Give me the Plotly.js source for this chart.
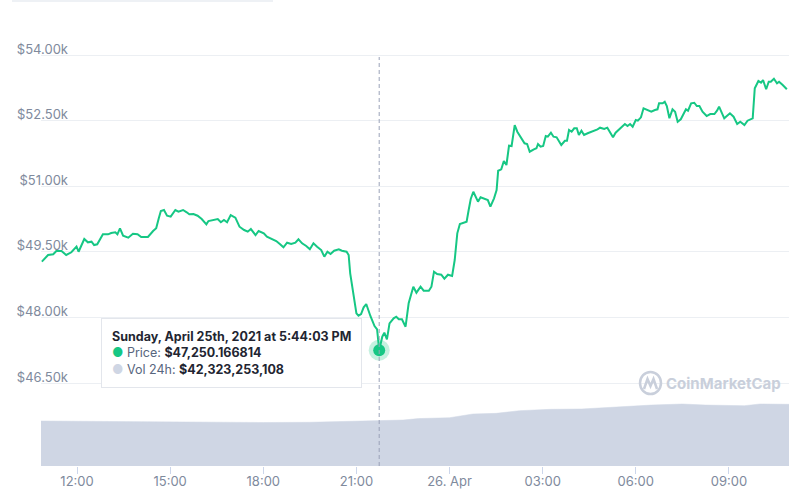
<!DOCTYPE html>
<html>
<head>
<meta charset="utf-8">
<script src="https://cdn.plot.ly/plotly-3.0.1.min.js"></script>
<style>
  html, body { margin: 0; padding: 0; background: #ffffff; }
  #chart { width: 802px; height: 491px; }
</style>
</head>
<body>
<div id="chart"></div>
<script>
// ---- Price series ----
const priceTimes = [
  "2021-04-25 10:52","2021-04-25 11:04","2021-04-25 11:14","2021-04-25 11:20","2021-04-25 11:30","2021-04-25 11:39",
  "2021-04-25 11:49","2021-04-25 11:59","2021-04-25 12:03","2021-04-25 12:14","2021-04-25 12:21","2021-04-25 12:28",
  "2021-04-25 12:33","2021-04-25 12:39","2021-04-25 12:50","2021-04-25 13:00","2021-04-25 13:06","2021-04-25 13:14",
  "2021-04-25 13:18","2021-04-25 13:23","2021-04-25 13:29","2021-04-25 13:39","2021-04-25 13:48","2021-04-25 13:57",
  "2021-04-25 14:04","2021-04-25 14:17","2021-04-25 14:27","2021-04-25 14:33","2021-04-25 14:38","2021-04-25 14:42",
  "2021-04-25 14:48","2021-04-25 14:54","2021-04-25 15:01","2021-04-25 15:10","2021-04-25 15:16","2021-04-25 15:25",
  "2021-04-25 15:32","2021-04-25 15:37","2021-04-25 15:45","2021-04-25 15:53","2021-04-25 16:01","2021-04-25 16:10",
  "2021-04-25 16:14","2021-04-25 16:24","2021-04-25 16:32","2021-04-25 16:38","2021-04-25 16:44","2021-04-25 16:50",
  "2021-04-25 16:57","2021-04-25 17:06","2021-04-25 17:14","2021-04-25 17:23","2021-04-25 17:30","2021-04-25 17:36",
  "2021-04-25 17:45","2021-04-25 17:51","2021-04-25 18:01","2021-04-25 18:07","2021-04-25 18:17","2021-04-25 18:25",
  "2021-04-25 18:32","2021-04-25 18:39","2021-04-25 18:46","2021-04-25 18:54","2021-04-25 19:02","2021-04-25 19:08",
  "2021-04-25 19:15","2021-04-25 19:23","2021-04-25 19:30","2021-04-25 19:37","2021-04-25 19:44","2021-04-25 19:52",
  "2021-04-25 19:58","2021-04-25 20:04","2021-04-25 20:10","2021-04-25 20:17","2021-04-25 20:26","2021-04-25 20:32",
  "2021-04-25 20:41","2021-04-25 20:45","2021-04-25 20:48","2021-04-25 20:54","2021-04-25 21:00","2021-04-25 21:04",
  "2021-04-25 21:09","2021-04-25 21:14","2021-04-25 21:19","2021-04-25 21:27","2021-04-25 21:35","2021-04-25 21:40",
  "2021-04-25 21:44:03","2021-04-25 21:50","2021-04-25 21:54","2021-04-25 21:59","2021-04-25 22:04","2021-04-25 22:12",
  "2021-04-25 22:17","2021-04-25 22:22","2021-04-25 22:28","2021-04-25 22:35","2021-04-25 22:41","2021-04-25 22:50",
  "2021-04-25 22:56","2021-04-25 23:04","2021-04-25 23:10","2021-04-25 23:20","2021-04-25 23:25","2021-04-25 23:30",
  "2021-04-25 23:36","2021-04-25 23:44","2021-04-25 23:50","2021-04-25 23:57",
  "2021-04-26 00:05","2021-04-26 00:10","2021-04-26 00:15","2021-04-26 00:20","2021-04-26 00:27","2021-04-26 00:33",
  "2021-04-26 00:37","2021-04-26 00:41","2021-04-26 00:46","2021-04-26 00:55","2021-04-26 01:00","2021-04-26 01:10",
  "2021-04-26 01:14","2021-04-26 01:19","2021-04-26 01:26","2021-04-26 01:31","2021-04-26 01:34","2021-04-26 01:40",
  "2021-04-26 01:45","2021-04-26 01:50","2021-04-26 01:55","2021-04-26 02:00","2021-04-26 02:06","2021-04-26 02:11",
  "2021-04-26 02:17","2021-04-26 02:25","2021-04-26 02:30","2021-04-26 02:35","2021-04-26 02:43","2021-04-26 02:48",
  "2021-04-26 02:51","2021-04-26 02:56","2021-04-26 03:01","2021-04-26 03:06","2021-04-26 03:10","2021-04-26 03:16",
  "2021-04-26 03:21","2021-04-26 03:27","2021-04-26 03:36","2021-04-26 03:43","2021-04-26 03:47","2021-04-26 03:51",
  "2021-04-26 03:56","2021-04-26 04:01","2021-04-26 04:06","2021-04-26 04:10","2021-04-26 04:15","2021-04-26 04:20",
  "2021-04-26 04:27","2021-04-26 04:36","2021-04-26 04:46","2021-04-26 04:51","2021-04-26 04:59","2021-04-26 05:05",
  "2021-04-26 05:10","2021-04-26 05:16","2021-04-26 05:21","2021-04-26 05:31","2021-04-26 05:39","2021-04-26 05:44",
  "2021-04-26 05:49","2021-04-26 05:54","2021-04-26 06:00","2021-04-26 06:04","2021-04-26 06:10","2021-04-26 06:15",
  "2021-04-26 06:23","2021-04-26 06:30","2021-04-26 06:37","2021-04-26 06:42","2021-04-26 06:45","2021-04-26 06:52",
  "2021-04-26 06:56","2021-04-26 07:00","2021-04-26 07:05","2021-04-26 07:11","2021-04-26 07:16","2021-04-26 07:21",
  "2021-04-26 07:27","2021-04-26 07:37","2021-04-26 07:41","2021-04-26 07:47","2021-04-26 07:53","2021-04-26 07:58",
  "2021-04-26 08:03","2021-04-26 08:09","2021-04-26 08:17","2021-04-26 08:24","2021-04-26 08:32","2021-04-26 08:37",
  "2021-04-26 08:41","2021-04-26 08:46","2021-04-26 08:51","2021-04-26 08:56","2021-04-26 09:02","2021-04-26 09:09",
  "2021-04-26 09:16","2021-04-26 09:22","2021-04-26 09:30","2021-04-26 09:36","2021-04-26 09:46","2021-04-26 09:50",
  "2021-04-26 09:57","2021-04-26 10:02","2021-04-26 10:06","2021-04-26 10:12","2021-04-26 10:17","2021-04-26 10:21",
  "2021-04-26 10:27","2021-04-26 10:33","2021-04-26 10:37","2021-04-26 10:44","2021-04-26 10:52"
];
const priceValues = [
  49274,49427,49443,49518,49518,49427,
  49489,49617,49502,49793,49717,49731,
  49655,49671,49900,49900,49930,49946,
  49900,50037,49868,49822,49914,49900,
  49838,49838,49976,50037,50266,50433,
  50456,50325,50303,50456,50417,50456,
  50403,50357,50364,50325,50250,50129,
  50204,50227,50250,50175,50227,50175,
  50341,50280,50074,49998,49960,50021,
  49884,49976,49923,49845,49793,49747,
  49678,49603,49708,49678,49708,49786,
  49694,49633,49557,49694,49617,49541,
  49388,49502,49450,49525,49557,49525,
  49502,49427,49008,48512,48094,48039,
  48078,48231,48306,48032,47803,47728,
  47250.166814,47559,47650,47499,47865,47979,
  48016,47957,47957,47787,48322,48702,
  48565,48702,48610,48610,48702,49045,
  48992,48976,48885,48976,
  48947,49312,49923,50136,50165,50188,
  50456,50707,50874,50646,50746,50700,
  50684,50531,50723,50913,51354,51386,
  51576,51485,51926,51919,52399,52246,
  52118,51981,51965,51789,51844,51867,
  51965,51903,51919,52148,52132,52223,
  52132,52118,51942,52040,52040,52285,
  52246,52324,52324,52171,52269,52171,
  52210,52246,52301,52338,52308,52338,
  52246,52118,52223,52324,52422,52377,
  52422,52360,52514,52498,52575,52781,
  52742,52704,52742,52758,52896,52896,
  52932,52834,52553,52758,52704,52475,
  52530,52758,52726,52896,52909,52834,
  52834,52704,52605,52651,52651,52726,
  52818,52667,52553,52605,52667,52589,
  52422,52475,52399,52498,52553,53239,
  53405,53367,53428,53216,53389,53389,
  53458,53353,53389,53314,53216
];

// ---- 24h volume series ----
const volTimes = [
  "2021-04-25 10:50","2021-04-25 12:00","2021-04-25 13:30","2021-04-25 15:00","2021-04-25 16:30","2021-04-25 18:00",
  "2021-04-25 19:30","2021-04-25 21:00","2021-04-25 21:44","2021-04-25 22:30","2021-04-25 23:00","2021-04-26 00:00",
  "2021-04-26 00:45","2021-04-26 01:30","2021-04-26 02:15","2021-04-26 03:15","2021-04-26 04:15","2021-04-26 05:00",
  "2021-04-26 06:00","2021-04-26 06:30","2021-04-26 07:30","2021-04-26 08:15","2021-04-26 09:30","2021-04-26 10:00",
  "2021-04-26 10:57"
];
const volValues = [
  42.3e9,42.0e9,42.3e9,41.8e9,41.4e9,40.9e9,
  41.1e9,41.8e9,42.32e9,43.2e9,44.6e9,45.4e9,
  48.9e9,49.5e9,52.0e9,53.3e9,53.6e9,55.0e9,
  56.4e9,57.3e9,58.3e9,57.3e9,56.7e9,58.3e9,
  58.0e9
];

// ---- Axis ticks ----
const yTickVals = [46500, 48000, 49500, 51000, 52500, 54000];
const yTickText = ["$46.50k", "$48.00k", "$49.50k", "$51.00k", "$52.50k", "$54.00k"];
const xTickVals = ["2021-04-25 12:00","2021-04-25 15:00","2021-04-25 18:00","2021-04-25 21:00",
                   "2021-04-26 00:00","2021-04-26 03:00","2021-04-26 06:00","2021-04-26 09:00"];
const xTickText = ["12:00","15:00","18:00","21:00","26. Apr","03:00","06:00","09:00"];

// ---- Hovered point & tooltip content ----
const hoverTime = "2021-04-25 21:44:03";
const hoverPrice = 47250.166814;
const tooltipDate = "Sunday, April 25th, 2021 at 5:44:03 PM";
const tooltipPrice = "$47,250.166814";
const tooltipVol = "$42,323,253,108";

const GREEN = "#16c784";
const AXIS_TXT = "#808a9d";
const FONT = "Inter, 'Noto Sans', sans-serif";

const traces = [
  {
    x: priceTimes, y: priceValues, type: "scatter", mode: "lines",
    line: { color: GREEN, width: 2 }, yaxis: "y", hoverinfo: "skip", showlegend: false
  },
  {
    x: [hoverTime], y: [hoverPrice], type: "scatter", mode: "markers",
    marker: { size: 21, color: "rgba(22,199,132,0.25)" }, yaxis: "y", hoverinfo: "skip", showlegend: false
  },
  {
    x: [hoverTime], y: [hoverPrice], type: "scatter", mode: "markers",
    marker: { size: 12, color: GREEN }, yaxis: "y", hoverinfo: "skip", showlegend: false
  },
  {
    x: volTimes, y: volValues, type: "scatter", mode: "lines", fill: "tozeroy",
    line: { color: "#cfd6e4", width: 0.5 }, fillcolor: "#cfd6e4",
    yaxis: "y2", hoverinfo: "skip", showlegend: false
  }
];

// pixel -> paper helpers for decorations (plot area: x 41..789, y 30..466)
const px = v => (v - 41) / 748;
const py = v => (466 - v) / 436;

const layout = {
  width: 802, height: 491,
  margin: { l: 41, r: 13, t: 30, b: 25 },
  paper_bgcolor: "#ffffff", plot_bgcolor: "#ffffff",
  font: { family: FONT, color: AXIS_TXT, size: 13 },
  showlegend: false,
  xaxis: {
    type: "date",
    range: ["2021-04-25 10:50:20", "2021-04-26 10:56:10"],
    tickmode: "array", tickvals: xTickVals, ticktext: xTickText,
    ticks: "outside", ticklen: 7, tickcolor: "#ccd6eb", tickwidth: 1,
    ticklabelstandoff: -4,
    showgrid: false, zeroline: false, showline: false,
    tickfont: { family: FONT, size: 13, color: AXIS_TXT }
  },
  yaxis: {
    range: [44602, 54572],
    tickmode: "array", tickvals: yTickVals, ticktext: yTickText,
    showgrid: true, gridcolor: "#eceff3", gridwidth: 1,
    zeroline: false, showline: false, ticks: "",
    ticklabelstandoff: -28, ticklabelshift: -6,
    tickfont: { family: FONT, size: 13, color: AXIS_TXT }
  },
  yaxis2: {
    overlaying: "y", range: [0, 410e9], visible: false, showgrid: false, zeroline: false
  },
  shapes: [
    // crosshair
    { type: "line", xref: "x", yref: "paper", x0: hoverTime, x1: hoverTime, y0: 0, y1: py(57),
      line: { color: "#9aa3b8", width: 1, dash: "4px,3px" }, layer: "above" },
    // watermark logo ring
    { type: "circle", xref: "paper", yref: "paper", x0: px(640), x1: px(661), y0: py(394), y1: py(372),
      line: { color: "#c9cfdb", width: 2.5 }, fillcolor: "rgba(0,0,0,0)", layer: "above" },
    { type: "path", xref: "paper", yref: "paper",
      path: `M${px(644)},${py(389)} L${px(647.5)},${py(379)} L${px(650.5)},${py(386)} L${px(653.5)},${py(379)} L${px(657)},${py(389)}`,
      line: { color: "#c9cfdb", width: 2.5 }, layer: "above" },
    // faint bar at the top-left of the page
    { type: "rect", xref: "paper", yref: "paper", x0: px(12), x1: px(273), y0: py(2), y1: py(0),
      line: { width: 0 }, fillcolor: "#eef1f5", layer: "above" }
  ],
  annotations: [
    {
      xref: "paper", yref: "paper", x: px(664), y: py(383), xanchor: "left", yanchor: "middle",
      text: "<b>CoinMarketCap</b>", showarrow: false,
      font: { family: FONT, size: 15, color: "#c9cfdb" }
    },
    {
      xref: "paper", yref: "paper", x: px(101), y: py(318), xanchor: "left", yanchor: "top",
      align: "left", showarrow: false,
      bgcolor: "rgba(255,255,255,0.97)", bordercolor: "#e3e6ec", borderwidth: 1, borderpad: 10,
      font: { family: FONT, size: 12.5, color: "#222531" },
      text: `<b>${tooltipDate}</b><br>` +
            `<span style="color:${GREEN}">●</span> <span style="color:#58667e">Price:</span> <b>${tooltipPrice}</b><br>` +
            `<span style="color:#cfd6e4">●</span> <span style="color:#58667e">Vol 24h:</span> <b>${tooltipVol}</b>`
    }
  ]
};

Plotly.newPlot("chart", traces, layout, { staticPlot: true, displayModeBar: false });
</script>
</body>
</html>
